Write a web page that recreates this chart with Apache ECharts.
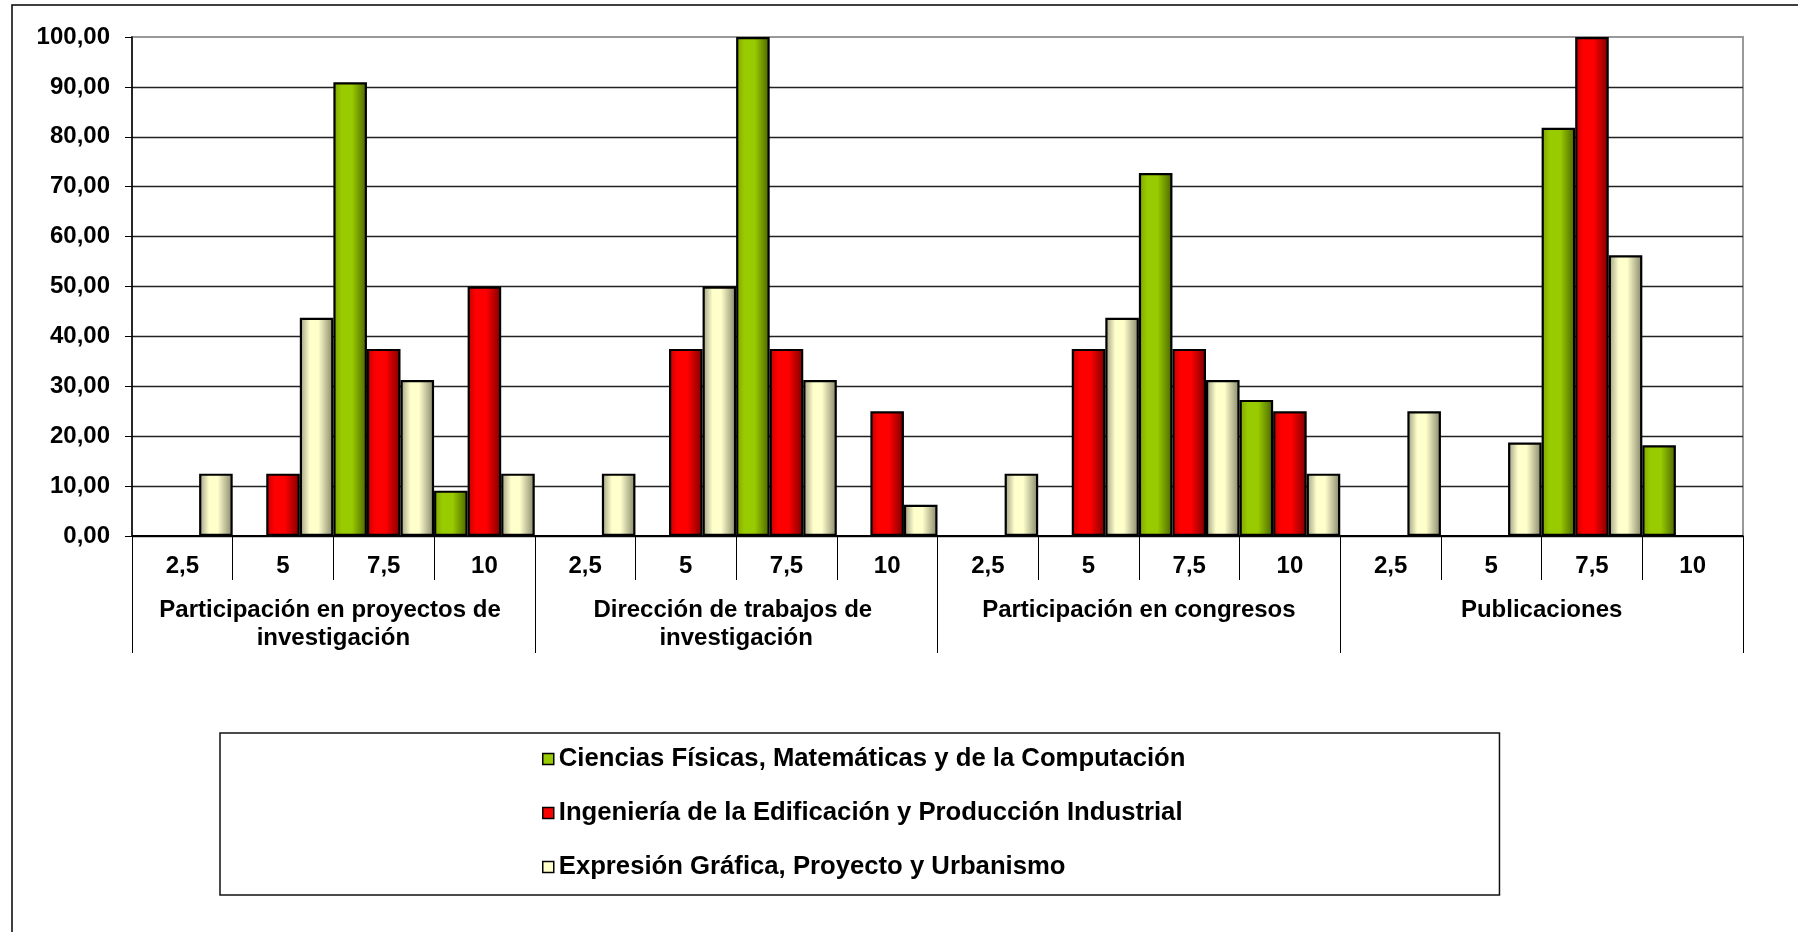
<!DOCTYPE html>
<html>
<head>
<meta charset="utf-8">
<script src="https://cdn.jsdelivr.net/npm/echarts@6/dist/echarts.min.js"></script>
<style>
html,body{margin:0;padding:0;background:#fff;}
#chart{width:1798px;height:932px;}
</style>
</head>
<body>
<div id="chart"></div>
<script>
// ---- data ----
const groups = [
  'Participación en proyectos de investigación',
  'Dirección de trabajos de investigación',
  'Participación en congresos',
  'Publicaciones'
];
const ticks = ['2,5', '5', '7,5', '10'];
const seriesNames = [
  'Ciencias Físicas, Matemáticas y de la Computación',
  'Ingeniería de la Edificación y Producción Industrial',
  'Expresión Gráfica, Proyecto y Urbanismo'
];
const ciencias   = [0, 0, 90.91, 9.09,   0, 0, 100, 0,      0, 0, 72.73, 27.27,   0, 0, 81.82, 18.18];
const ingenieria = [0, 12.5, 37.5, 50,   0, 37.5, 37.5, 25, 0, 37.5, 37.5, 25,    0, 0, 100, 0];
const expresion  = [12.5, 43.75, 31.25, 12.5, 12.5, 50, 31.25, 6.25, 12.5, 43.75, 31.25, 12.5, 25, 18.75, 56.25, 0];

const categories = groups.flatMap(() => ticks);

const FONT = 'Liberation Sans, Arial, Helvetica, sans-serif';

function grad(stops) {
  return new echarts.graphic.LinearGradient(0, 0, 1, 0,
    stops.map(s => ({ offset: s[0], color: s[1] })));
}
const fills = [
  grad([[0, '#7fa300'], [0.25, '#99cc00'], [0.55, '#99cc00'], [1, '#4a6300']]),
  grad([[0, '#c40000'], [0.25, '#ff0000'], [0.55, '#ff0000'], [1, '#7a0000']]),
  grad([[0, '#9c9c80'], [0.3, '#ffffcc'], [0.55, '#ffffcc'], [1, '#85856a']])
];
const solid = ['#99cc00', '#ff0000', '#ffffcc'];
const values = [ciencias, ingenieria, expresion];

const chart = echarts.init(document.getElementById('chart'), null, { renderer: 'canvas' });

chart.setOption({
  backgroundColor: '#fff',
  animation: false,
  textStyle: { fontFamily: FONT },
  graphic: [{
    type: 'rect',
    shape: { x: 12, y: 5, width: 1900, height: 1000 },
    style: { fill: 'none', stroke: '#000', lineWidth: 1.5 },
    silent: true
  }],
  grid: {
    left: 132, right: 55, top: 37, bottom: 396,
    show: true, borderColor: '#999', borderWidth: 2, backgroundColor: 'transparent'
  },
  legend: {
    orient: 'vertical',
    left: 220, top: 733,
    padding: [13, 314, 15, 322],
    borderColor: '#111', borderWidth: 1.5,
    itemWidth: 11, itemHeight: 11, itemGap: 28,
    icon: 'rect',
    textStyle: { fontFamily: FONT, fontWeight: 'bold', fontSize: 25.7, color: '#000', lineHeight: 24 },
    itemStyle: { borderColor: '#000', borderWidth: 1.5 },
    data: seriesNames.map((n, i) => ({ name: n, itemStyle: { color: solid[i] } }))
  },
  xAxis: [{
    type: 'category',
    data: categories,
    position: 'bottom',
    axisLine: { show: true, lineStyle: { color: '#000', width: 1.5 } },
    axisTick: { show: true, length: 44, interval: 0, lineStyle: { color: '#000', width: 1 } },
    axisLabel: { interval: 0, margin: 18, color: '#000', fontFamily: FONT, fontWeight: 'bold', fontSize: 24, lineHeight: 24 },
    splitLine: { show: false }
  }, {
    type: 'category',
    data: groups,
    position: 'bottom',
    axisLine: { show: false },
    axisTick: { show: true, length: 117, interval: 0, lineStyle: { color: '#000', width: 1 } },
    axisLabel: {
      interval: 0, margin: 61, color: '#000', fontFamily: FONT, fontWeight: 'bold', fontSize: 24,
      lineHeight: 27.6, width: 390, overflow: 'break', align: 'center'
    },
    splitLine: { show: false }
  }],
  yAxis: {
    type: 'value',
    min: 0, max: 100, interval: 10,
    axisLine: { show: true, lineStyle: { color: '#000', width: 1.5 } },
    axisTick: { show: true, length: 7, lineStyle: { color: '#000', width: 1 } },
    axisLabel: {
      margin: 22, color: '#000', fontFamily: FONT, fontWeight: 'bold', fontSize: 24,
      formatter: v => v.toFixed(2).replace('.', ',')
    },
    splitLine: { show: true, showMaxLine: false, lineStyle: { color: '#222', width: 1.3 } }
  },
  series: seriesNames.map((n, i) => ({
    name: n,
    type: 'bar',
    xAxisIndex: 0,
    data: values[i],
    barGap: '0%',
    barCategoryGap: '0%',
    itemStyle: { color: fills[i], borderColor: '#000', borderWidth: 2.2 }
  }))
});
</script>
</body>
</html>
